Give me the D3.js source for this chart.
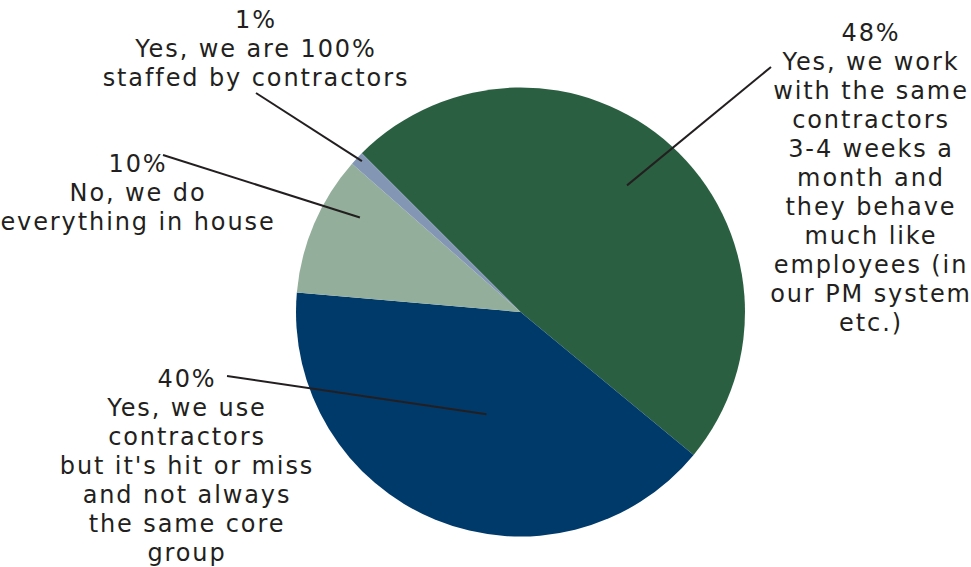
<!DOCTYPE html>
<html>
<head>
<meta charset="utf-8">
<script src="https://cdn.jsdelivr.net/npm/d3@7"></script>
<style>
  html, body { margin: 0; padding: 0; background: #fff; }
  svg { display: block; }
  text { font-family: "DejaVu Sans", sans-serif; fill: #231f20; }
</style>
</head>
<body>
<svg id="chart" width="971" height="567"></svg>
<script>
// Survey answers (percent of respondents)
const categories = [
  "Yes, we work with the same contractors 3-4 weeks a month and they behave much like employees (in our PM system etc.)",
  "Yes, we use contractors but it's hit or miss and not always the same core group",
  "No, we do everything in house",
  "Yes, we are 100% staffed by contractors"
];
const values = [48, 40, 10, 1];
const colors = ["#2a6041", "#003a6b", "#93ae9a", "#8396b4"];

// Wrapped label lines for each slice
const labelLines = [
  ["Yes, we work", "with the same", "contractors", "3-4 weeks a", "month and", "they behave", "much like", "employees (in", "our PM system", "etc.)"],
  ["Yes, we use", "contractors", "but it's hit or miss", "and not always", "the same core", "group"],
  ["No, we do", "everything in house"],
  ["Yes, we are 100%", "staffed by contractors"]
];

const W = 971, H = 567;
const cx = 520.5, cy = 312, R = 224.5;
const lineH = 29;

// label block placement: centre x, first baseline y, leader start, leader end (angle shift in deg, radius fraction)
const labelLayout = [
  { x: 871, y: 41,  lx: 771, ly: 67,  shift: -2.2, k: 0.737 },
  { x: 187, y: 387, lx: 227, ly: 376, shift: -3.9, k: 0.48 },
  { x: 138, y: 172, lx: 163, ly: 155, shift: 7.3,  k: 0.83 },
  { x: 256, y: 28,  lx: 256, ly: 93,  shift: 0.4,  k: 0.975 }
];

const svg = d3.select("#chart");
const g = svg.append("g").attr("transform", `translate(${cx},${cy})`);

const pie = d3.pie().sort(null).value(d => d).startAngle(-Math.PI / 4).endAngle(-Math.PI / 4 + 2 * Math.PI);
const arcs = pie(values);
const arc = d3.arc().innerRadius(0).outerRadius(R);

g.selectAll("path.slice")
  .data(arcs)
  .join("path")
  .attr("class", "slice")
  .attr("d", arc)
  .attr("fill", (d, i) => colors[i]);

// leader lines from label to slice interior
arcs.forEach((a, i) => {
  const L = labelLayout[i];
  const ang = (a.startAngle + a.endAngle) / 2 + L.shift * Math.PI / 180;
  const ex = cx + Math.sin(ang) * R * L.k;
  const ey = cy - Math.cos(ang) * R * L.k;
  svg.append("line")
    .attr("x1", L.lx).attr("y1", L.ly)
    .attr("x2", ex).attr("y2", ey)
    .attr("stroke", "#231f20")
    .attr("stroke-width", 2);
});

// labels: percentage on the first line, then the wrapped category name
arcs.forEach((a, i) => {
  const L = labelLayout[i];
  const t = svg.append("text")
    .attr("text-anchor", "middle")
    .attr("font-size", 24)
    .attr("letter-spacing", 1.9);
  const lines = [values[i] + "%"].concat(labelLines[i]);
  lines.forEach((s, j) => {
    t.append("tspan").attr("x", L.x).attr("y", L.y + j * lineH).text(s);
  });
});
</script>
</body>
</html>
